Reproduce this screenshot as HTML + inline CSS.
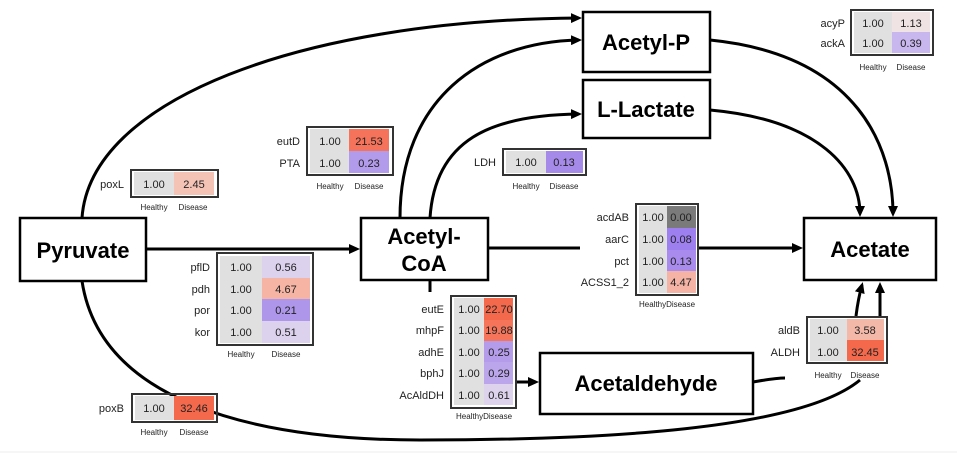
<!DOCTYPE html>
<html><head><meta charset="utf-8"><style>
html,body{margin:0;padding:0;background:#fff}
svg{display:block}
text{font-family:"Liberation Sans",sans-serif}
.n{font-size:22px;font-weight:bold;text-anchor:middle;fill:#000}
.v{font-size:11px;text-anchor:middle;fill:#222}
.l{font-size:11px;text-anchor:end;fill:#222}
.h{font-size:8px;text-anchor:middle;fill:#222}
.b{fill:none;stroke:#333;stroke-width:2}
.c{fill:none;stroke:#000;stroke-width:3}
.g{fill:#e0e0e0}
</style></head><body>
<svg width="957" height="464" viewBox="0 0 957 464">
<defs><marker id="a" markerWidth="11" markerHeight="10" refX="8" refY="5" orient="auto" markerUnits="userSpaceOnUse"><path d="M0,0 L11,5 L0,10 Z" fill="#000"/></marker></defs>
<line x1="0" y1="452" x2="957" y2="452" stroke="#eee" stroke-width="1"/>
<!-- curves -->
<path class="c" d="M82,218 C90,100 300,20 579,18" marker-end="url(#a)"/>
<path class="c" d="M400,218 C400,100 480,42 579,40" marker-end="url(#a)"/>
<path class="c" d="M430,218 C435,140 490,115 579,114" marker-end="url(#a)"/>
<path class="c" d="M710,40 C860,55 893,150 893,214" marker-end="url(#a)"/>
<path class="c" d="M710,110 C820,120 860,170 860,214" marker-end="url(#a)"/>
<path class="c" d="M146,249 L357,249" marker-end="url(#a)"/>
<path class="c" d="M488,248 L580,248"/>
<path class="c" d="M698,248 L800,248" marker-end="url(#a)"/>
<path class="c" d="M430,280 L430,292"/>
<path class="c" d="M516,382 L536,382" marker-end="url(#a)"/>
<path class="c" d="M753,382 C765,380 775,378 785,378"/>
<path class="c" d="M856,316 C858,300 860,292 862,285" marker-end="url(#a)"/>
<path class="c" d="M880,316 L880,285" marker-end="url(#a)"/>
<path class="c" d="M82,281 C100,400 250,440 420,440 C600,440 800,430 860,380"/>
<!-- nodes -->
<rect x="20" y="218" width="126" height="63" fill="#fff" stroke="#000" stroke-width="2.5"/>
<text class="n" x="83" y="258">Pyruvate</text>
<rect x="361" y="218" width="127" height="62" fill="#fff" stroke="#000" stroke-width="2.5"/>
<text class="n" x="424" y="244">Acetyl-</text><text class="n" x="424" y="271">CoA</text>
<rect x="583" y="12" width="127" height="60" fill="#fff" stroke="#000" stroke-width="2.5"/>
<text class="n" x="646" y="50">Acetyl-P</text>
<rect x="583" y="80" width="127" height="58" fill="#fff" stroke="#000" stroke-width="2.5"/>
<text class="n" x="646" y="117">L-Lactate</text>
<rect x="804" y="218" width="132" height="62" fill="#fff" stroke="#000" stroke-width="2.5"/>
<text class="n" x="870" y="257">Acetate</text>
<rect x="540" y="353" width="213" height="61" fill="#fff" stroke="#000" stroke-width="2.5"/>
<text class="n" x="646" y="391">Acetaldehyde</text>

<!-- poxL -->
<rect class="g" x="134" y="172" width="40" height="23"/><rect x="174" y="172" width="40" height="23" fill="#f4c3b6"/>
<rect class="b" x="131" y="170" width="87" height="27"/>
<text class="v" x="154" y="188">1.00</text><text class="v" x="194" y="188">2.45</text>
<text class="l" x="124" y="188">poxL</text>
<text class="h" x="154" y="210">Healthy</text><text class="h" x="193" y="210">Disease</text>

<!-- eutD -->
<rect class="g" x="310" y="129" width="39" height="44"/>
<rect x="349" y="129" width="40" height="22" fill="#f5735a"/><rect x="349" y="151" width="40" height="22" fill="#b29bea"/>
<rect class="b" x="307" y="127" width="86" height="48"/>
<text class="v" x="330" y="145">1.00</text><text class="v" x="369" y="145">21.53</text>
<text class="v" x="330" y="167">1.00</text><text class="v" x="369" y="167">0.23</text>
<text class="l" x="300" y="145">eutD</text><text class="l" x="300" y="167">PTA</text>
<text class="h" x="330" y="189">Healthy</text><text class="h" x="369" y="189">Disease</text>

<!-- LDH -->
<rect class="g" x="506" y="151" width="40" height="22"/><rect x="546" y="151" width="37" height="22" fill="#a58aea"/>
<rect class="b" x="503" y="149" width="83" height="26"/>
<text class="v" x="526" y="166">1.00</text><text class="v" x="564" y="166">0.13</text>
<text class="l" x="496" y="166">LDH</text>
<text class="h" x="526" y="189">Healthy</text><text class="h" x="564" y="189">Disease</text>

<!-- acyP -->
<rect class="g" x="854" y="12" width="38" height="41"/>
<rect x="892" y="12" width="38" height="20" fill="#efe3e3"/><rect x="892" y="32" width="38" height="21" fill="#c8b6ee"/>
<rect class="b" x="851" y="10" width="82" height="45"/>
<text class="v" x="873" y="27">1.00</text><text class="v" x="911" y="27">1.13</text>
<text class="v" x="873" y="47">1.00</text><text class="v" x="911" y="47">0.39</text>
<text class="l" x="845" y="27">acyP</text><text class="l" x="845" y="47">ackA</text>
<text class="h" x="873" y="70">Healthy</text><text class="h" x="911" y="70">Disease</text>

<!-- acdAB -->
<rect class="g" x="639" y="206" width="28" height="87"/>
<rect x="667" y="206" width="29" height="22" fill="#7a7a7a"/>
<rect x="667" y="228" width="29" height="22" fill="#9d7ff0"/>
<rect x="667" y="250" width="29" height="21" fill="#a88bec"/>
<rect x="667" y="271" width="29" height="22" fill="#f4b3a4"/>
<rect class="b" x="636" y="204" width="62" height="91"/>
<text class="v" x="653" y="221">1.00</text><text class="v" x="681" y="221">0.00</text>
<text class="v" x="653" y="243">1.00</text><text class="v" x="681" y="243">0.08</text>
<text class="v" x="653" y="265">1.00</text><text class="v" x="681" y="265">0.13</text>
<text class="v" x="653" y="286">1.00</text><text class="v" x="681" y="286">4.47</text>
<text class="l" x="629" y="221">acdAB</text><text class="l" x="629" y="243">aarC</text>
<text class="l" x="629" y="265">pct</text><text class="l" x="629" y="286">ACSS1_2</text>
<text class="h" x="667" y="307">HealthyDisease</text>

<!-- pflD -->
<rect class="g" x="220" y="256" width="42" height="87"/>
<rect x="262" y="256" width="48" height="22" fill="#dcd2ee"/>
<rect x="262" y="278" width="48" height="21" fill="#f6b4a4"/>
<rect x="262" y="299" width="48" height="22" fill="#ae96ea"/>
<rect x="262" y="321" width="48" height="22" fill="#dcd2ee"/>
<rect class="b" x="217" y="253" width="96" height="92"/>
<text class="v" x="241" y="271">1.00</text><text class="v" x="286" y="271">0.56</text>
<text class="v" x="241" y="293">1.00</text><text class="v" x="286" y="293">4.67</text>
<text class="v" x="241" y="314">1.00</text><text class="v" x="286" y="314">0.21</text>
<text class="v" x="241" y="336">1.00</text><text class="v" x="286" y="336">0.51</text>
<text class="l" x="210" y="271">pflD</text><text class="l" x="210" y="293">pdh</text>
<text class="l" x="210" y="314">por</text><text class="l" x="210" y="336">kor</text>
<text class="h" x="241" y="357">Healthy</text><text class="h" x="286" y="357">Disease</text>

<!-- eutE -->
<rect class="g" x="454" y="298" width="30" height="107"/>
<rect x="484" y="298" width="29" height="22" fill="#f4694c"/>
<rect x="484" y="320" width="29" height="21" fill="#f5745a"/>
<rect x="484" y="341" width="29" height="21" fill="#b49cea"/>
<rect x="484" y="362" width="29" height="22" fill="#bba6ec"/>
<rect x="484" y="384" width="29" height="21" fill="#ddd3ec"/>
<rect class="b" x="451" y="296" width="65" height="112"/>
<text class="v" x="469" y="313">1.00</text><text class="v" x="499" y="313">22.70</text>
<text class="v" x="469" y="334">1.00</text><text class="v" x="499" y="334">19.88</text>
<text class="v" x="469" y="356">1.00</text><text class="v" x="499" y="356">0.25</text>
<text class="v" x="469" y="377">1.00</text><text class="v" x="499" y="377">0.29</text>
<text class="v" x="469" y="399">1.00</text><text class="v" x="499" y="399">0.61</text>
<text class="l" x="444" y="313">eutE</text><text class="l" x="444" y="334">mhpF</text>
<text class="l" x="444" y="356">adhE</text><text class="l" x="444" y="377">bphJ</text>
<text class="l" x="444" y="399">AcAldDH</text>
<text class="h" x="484" y="419">HealthyDisease</text>

<!-- aldB -->
<rect class="g" x="810" y="319" width="37" height="42"/>
<rect x="847" y="319" width="37" height="21" fill="#f4b8a8"/><rect x="847" y="340" width="37" height="21" fill="#f4694c"/>
<rect class="b" x="807" y="317" width="80" height="46"/>
<text class="v" x="828" y="334">1.00</text><text class="v" x="865" y="334">3.58</text>
<text class="v" x="828" y="356">1.00</text><text class="v" x="865" y="356">32.45</text>
<text class="l" x="800" y="334">aldB</text><text class="l" x="800" y="356">ALDH</text>
<text class="h" x="828" y="378">Healthy</text><text class="h" x="865" y="378">Disease</text>

<!-- poxB -->
<rect class="g" x="135" y="396" width="39" height="24"/><rect x="174" y="396" width="40" height="24" fill="#f4694c"/>
<rect class="b" x="132" y="394" width="85" height="28"/>
<text class="v" x="154" y="412">1.00</text><text class="v" x="194" y="412">32.46</text>
<text class="l" x="124" y="412">poxB</text>
<text class="h" x="154" y="435">Healthy</text><text class="h" x="194" y="435">Disease</text>
</svg>
</body></html>
